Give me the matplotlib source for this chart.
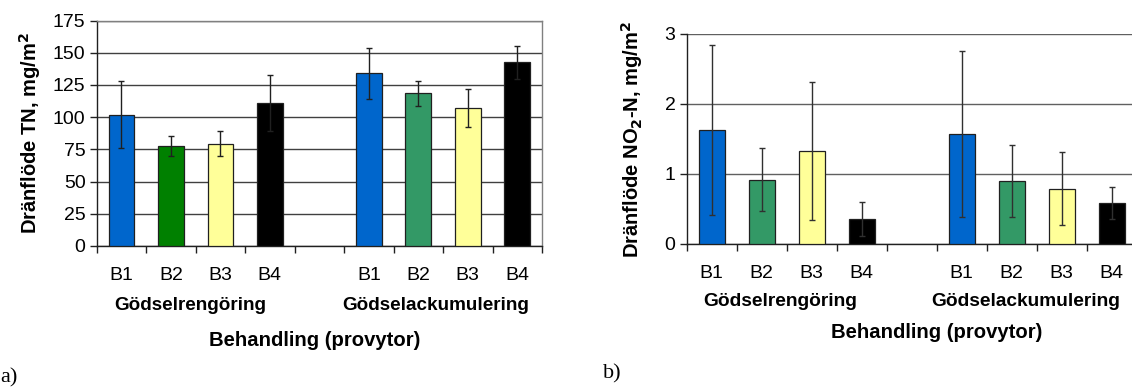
import matplotlib
matplotlib.use("Agg")
import matplotlib.pyplot as plt
import matplotlib.transforms as mtransforms

plt.rcParams['font.family'] = ['Liberation Sans', 'DejaVu Sans']

W, H = 1132, 387

groups = ['Gödselrengöring', 'Gödselackumulering']
treatments = ['B1', 'B2', 'B3', 'B4']

# a) total nitrogen, mg/m2
tn_mean = [102, 77.5, 79.5, 111, 134, 118.5, 107, 142.5]
tn_err = [26, 7.7, 10, 22, 20, 9.5, 15, 12.7]
tn_colors = ['#0066CC', '#008000', '#FFFF99', '#000000',
             '#0066CC', '#339966', '#FFFF99', '#000000']

# b) nitrite nitrogen, mg/m2
no2_mean = [1.63, 0.92, 1.33, 0.36, 1.57, 0.90, 0.79, 0.59]
no2_err = [1.22, 0.45, 0.99, 0.24, 1.19, 0.52, 0.52, 0.23]
no2_colors = ['#0066CC', '#339966', '#FFFF99', '#000000',
              '#0066CC', '#339966', '#FFFF99', '#000000']

# slot positions: 4 bars, empty slot, 4 bars
xpos = [0, 1, 2, 3, 5, 6, 7, 8]

fig = plt.figure(figsize=(W / 100, H / 100), dpi=100)


def px_box(left, top, right, bottom):
    return [left / W, 1 - bottom / H, (right - left) / W, (bottom - top) / H]


def draw_panel(ax, means, errs, colors, ymax, step, gridcol, ecol, right_spine):
    ax.bar(xpos, means, width=0.52, color=colors, edgecolor='#202020',
           linewidth=0.9, zorder=3)
    ax.errorbar(xpos, means, yerr=errs, fmt='none', ecolor=ecol,
                elinewidth=1.0, capsize=2.5, capthick=1.0, zorder=4)
    ax.set_xlim(-0.5, 8.5)
    ax.set_ylim(0, ymax)
    ax.set_yticks([i * step for i in range(int(round(ymax / step)) + 1)])
    ax.yaxis.grid(True, color=gridcol, linewidth=1.0, zorder=1)
    ax.set_axisbelow(True)
    ax.set_xticks([i - 0.5 for i in range(10)])
    ax.set_xticklabels([])
    ax.tick_params(axis='x', direction='out', length=5, width=1, color='#202020')
    ax.tick_params(axis='y', direction='out', length=5, width=1, color='#202020',
                   labelsize=14, pad=3)
    ax.spines['left'].set_color('#202020')
    ax.spines['bottom'].set_color('#202020')
    ax.spines['top'].set_color('#808080')
    ax.spines['right'].set_color('#808080')
    ax.spines['top'].set_visible(right_spine)
    ax.spines['right'].set_visible(right_spine)
    for s in ax.spines.values():
        s.set_linewidth(1.0)


# panel a
ax1 = fig.add_axes(px_box(96.7, 20.5, 542, 246))
draw_panel(ax1, tn_mean, tn_err, tn_colors, 175, 25, '#404040', '#202020', True)
ax1.set_ylabel('Dränflöde TN, mg/m$^\\mathbf{2}$', fontsize=14.5,
               fontweight='bold', labelpad=7)
tr1 = mtransforms.blended_transform_factory(ax1.transData, fig.transFigure)
for x, lab in zip(xpos, treatments * 2):
    ax1.text(x, 1 - 275 / H, lab, transform=tr1, ha='center', va='center',
             fontsize=14)
ax1.text(1.4, 1 - 306 / H, groups[0], transform=tr1, ha='center', va='center',
         fontsize=13.6, fontweight='bold')
ax1.text(6.35, 1 - 306 / H, groups[1], transform=tr1, ha='center', va='center',
         fontsize=13.6, fontweight='bold')
ax1.text(3.9, 1 - 340 / H, 'Behandling (provytor)', transform=tr1,
         ha='center', va='center', fontsize=14.6, fontweight='bold')
fig.text(0.5 / W, 1 - 378 / H, 'a)', ha='left', va='center', fontsize=16,
         family='Liberation Serif')

# panel b (extends past the right edge of the picture)
ax2 = fig.add_axes(px_box(686.7, 34, 1136.7, 244))
draw_panel(ax2, no2_mean, no2_err, no2_colors, 3, 1, '#606060', '#303030', False)
ax2.set_ylabel('Dränflöde NO$_\\mathbf{2}$-N, mg/m$^\\mathbf{2}$', fontsize=14.5,
               fontweight='bold', labelpad=14)
tr2 = mtransforms.blended_transform_factory(ax2.transData, fig.transFigure)
for x, lab in zip(xpos, treatments * 2):
    ax2.text(x, 1 - 274 / H, lab, transform=tr2, ha='center', va='center',
             fontsize=14)
ax2.text(1.37, 1 - 301 / H, groups[0], transform=tr2, ha='center', va='center',
         fontsize=13.8, fontweight='bold')
ax2.text(6.27, 1 - 301 / H, groups[1], transform=tr2, ha='center', va='center',
         fontsize=13.8, fontweight='bold')
ax2.text(4.5, 1 - 333 / H, 'Behandling (provytor)', transform=tr2,
         ha='center', va='center', fontsize=14.6, fontweight='bold')
fig.text(603 / W, 1 - 374 / H, 'b)', ha='left', va='center', fontsize=16,
         family='Liberation Serif')

fig.savefig('out.png', dpi=100)
